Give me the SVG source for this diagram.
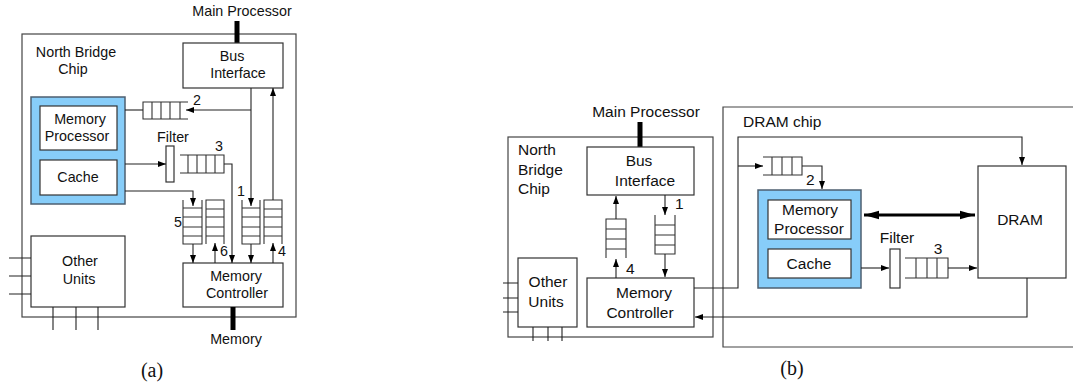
<svg xmlns="http://www.w3.org/2000/svg" width="1073" height="386" viewBox="0 0 1073 386">
<style>
.bx{fill:#fff;stroke:#333;stroke-width:1.2}
.ob{fill:none;stroke:#444;stroke-width:1.2}
.blue{fill:#87cdf9;stroke:#4d5f70;stroke-width:1.5}
.ln{fill:none;stroke:#222;stroke-width:1.1}
.q{fill:none;stroke:#333;stroke-width:1.1}
.thick{stroke:#000;stroke-width:5}
.t{font-family:"Liberation Sans",Arial,sans-serif;font-size:14.3px;fill:#111}
.tb{font-family:"Liberation Sans",Arial,sans-serif;font-size:15.5px;fill:#111}
.c{text-anchor:middle}
.cap{font-family:"Liberation Serif","Times New Roman",serif;font-size:20px;fill:#111;text-anchor:middle}
</style>
<defs>
<marker id="ah" markerUnits="userSpaceOnUse" markerWidth="9" markerHeight="7" refX="8" refY="3.5" orient="auto">
<path d="M0,0.5 L8,3.5 L0,6.5 Z" fill="#000"/>
</marker>
<marker id="ahb" markerUnits="userSpaceOnUse" markerWidth="16" markerHeight="10" refX="15" refY="5" orient="auto-start-reverse">
<path d="M0,0.8 L15,5 L0,9.2 Z" fill="#000"/>
</marker>
</defs>

<!-- ================= Panel (a) ================= -->
<g id="a-northbridge">
<rect class="ob" x="22" y="34" width="274" height="283"/>
<text class="t c" x="76" y="57">North Bridge</text>
<text class="t c" x="73" y="74">Chip</text>
</g>
<g id="a-mainproc">
<line class="thick" x1="237" y1="21" x2="237" y2="43"/>
<text class="t c" x="242" y="16">Main Processor</text>
</g>
<g id="a-businterface">
<rect class="bx" x="183" y="43" width="100" height="45"/>
<text class="t c" x="232" y="61">Bus</text>
<text class="t c" x="238" y="78">Interface</text>
</g>
<g id="a-blue">
<rect class="blue" x="31" y="97" width="94" height="107"/>
</g>
<g id="a-memproc">
<rect class="bx" x="40" y="106" width="77" height="44"/>
<text class="t c" x="80" y="124">Memory</text>
<text class="t c" x="77" y="141">Processor</text>
</g>
<g id="a-cache">
<rect class="bx" x="40" y="160" width="77" height="35"/>
<text class="t c" x="78" y="182">Cache</text>
</g>
<g id="a-filter">
<rect class="bx" x="166" y="146" width="8" height="36"/>
<text class="t c" x="173" y="142">Filter</text>
</g>
<g id="a-queue2">
<path class="q" d="M188,102 H143 V119 H188 M152,102 V119 M161,102 V119 M170,102 V119 M180,102 V119"/>
<text class="t" x="193" y="105">2</text>
</g>
<g id="a-queue3">
<path class="q" d="M180,155 H224 V173 H180 M188,155 V173 M197,155 V173 M206,155 V173 M215,155 V173"/>
<text class="t c" x="219" y="151">3</text>
</g>
<g id="a-queue5">
<path class="q" d="M183,200 V244 H202 V200 M183,208 H202 M183,217 H202 M183,227 H202 M183,236 H202"/>
<text class="t" x="174" y="227">5</text>
</g>
<g id="a-queue6">
<path class="q" d="M206,244 V200 H224 V244 M206,209 H224 M206,217 H224 M206,227 H224 M206,236 H224"/>
<text class="t" x="220" y="256">6</text>
</g>
<g id="a-queue1">
<path class="q" d="M242,200 V244 H260 V200 M242,208 H260 M242,217 H260 M242,227 H260 M242,236 H260"/>
<text class="t" x="237" y="196">1</text>
</g>
<g id="a-queue4">
<path class="q" d="M264,244 V200 H282 V244 M264,209 H282 M264,217 H282 M264,227 H282 M264,236 H282"/>
<text class="t" x="278" y="256">4</text>
</g>
<g id="a-memctrl">
<rect class="bx" x="183" y="263" width="100" height="44"/>
<text class="t c" x="236" y="281">Memory</text>
<text class="t c" x="237" y="298">Controller</text>
</g>
<g id="a-memory">
<line class="thick" x1="233" y1="307" x2="233" y2="330"/>
<text class="t c" x="236" y="344">Memory</text>
</g>
<g id="a-otherunits">
<rect class="bx" x="31" y="236" width="94" height="71"/>
<text class="t c" x="80" y="266">Other</text>
<text class="t c" x="79" y="284">Units</text>
<path class="ln" d="M9,258 H31 M9,276 H31 M9,294 H31 M53,307 V330 M76,307 V330 M98,307 V330"/>
</g>
<text class="cap" x="152" y="377">(a)</text>

<g id="a-connectors">
<path class="ln" d="M251,110 H186" marker-end="url(#ah)"/>
<path class="ln" d="M125,110 H143"/>
<path class="ln" d="M125,164 H166" marker-end="url(#ah)"/>
<path class="ln" d="M224,164 H232 V263" marker-end="url(#ah)"/>
<path class="ln" d="M125,191 H193 V206" marker-end="url(#ah)"/>
<path class="ln" d="M193,244 V263" marker-end="url(#ah)"/>
<path class="ln" d="M215,263 V243" marker-end="url(#ah)"/>
<path class="ln" d="M251,88 V206" marker-end="url(#ah)"/>
<path class="ln" d="M251,244 V263" marker-end="url(#ah)"/>
<path class="ln" d="M273,200 V88" marker-end="url(#ah)"/>
<path class="ln" d="M273,263 V243" marker-end="url(#ah)"/>
</g>

<!-- ================= Panel (b) ================= -->
<g id="b-northbridge">
<rect class="ob" x="508" y="137" width="205" height="200"/>
<text class="tb" x="518" y="155">North</text>
<text class="tb" x="518" y="175">Bridge</text>
<text class="tb" x="518" y="194">Chip</text>
</g>
<g id="b-mainproc">
<line class="thick" x1="640" y1="122" x2="640" y2="147"/>
<text class="tb c" x="646" y="117">Main Processor</text>
</g>
<g id="b-businterface">
<rect class="bx" x="587" y="147" width="107" height="48"/>
<text class="tb c" x="639" y="166">Bus</text>
<text class="tb c" x="645" y="186">Interface</text>
</g>
<g id="b-queue4">
<path class="q" d="M606,258 V219 H626 V258 M606,229 H626 M606,239 H626 M606,249 H626"/>
<text class="tb" x="626" y="274">4</text>
</g>
<g id="b-queue1">
<path class="q" d="M655,215 V254 H675 V215 M655,225 H675 M655,235 H675 M655,245 H675"/>
<text class="tb" x="675" y="209">1</text>
</g>
<g id="b-memctrl">
<rect class="bx" x="587" y="278" width="107" height="49"/>
<text class="tb c" x="644" y="298">Memory</text>
<text class="tb c" x="640" y="318">Controller</text>
</g>
<g id="b-otherunits">
<rect class="bx" x="518" y="258" width="59" height="69"/>
<text class="tb c" x="548" y="287">Other</text>
<text class="tb c" x="546" y="307">Units</text>
<path class="ln" d="M503,283 H518 M503,298 H518 M503,312 H518 M533,327 V341 M548,327 V341 M562,327 V341"/>
</g>
<g id="b-dramchip">
<path class="ob" d="M1080,107 H723 V347 H1080"/>
<text class="tb" x="743" y="127">DRAM chip</text>
</g>
<g id="b-queue2">
<path class="q" d="M763,157 H802 V175 H763 M772,157 V175 M782,157 V175 M792,157 V175"/>
<text class="tb" x="806" y="185">2</text>
</g>
<g id="b-blue">
<rect class="blue" x="758" y="190" width="103" height="98"/>
</g>
<g id="b-memproc">
<rect class="bx" x="768" y="200" width="83" height="39"/>
<text class="tb c" x="810" y="215">Memory</text>
<text class="tb c" x="809" y="234">Processor</text>
</g>
<g id="b-cache">
<rect class="bx" x="768" y="249" width="83" height="29"/>
<text class="tb c" x="809" y="269">Cache</text>
</g>
<g id="b-filter">
<rect class="bx" x="890" y="249" width="10" height="39"/>
<text class="tb c" x="897" y="243">Filter</text>
</g>
<g id="b-queue3">
<path class="q" d="M905,258 H948 V278 H905 M916,258 V278 M927,258 V278 M937,258 V278"/>
<text class="tb c" x="938" y="254">3</text>
</g>
<g id="b-dram">
<rect class="bx" x="978" y="166" width="88" height="112"/>
<text class="tb c" x="1020" y="225">DRAM</text>
</g>
<text class="cap" x="792" y="375">(b)</text>

<g id="b-connectors">
<path class="ln" d="M616,219 V196" marker-end="url(#ah)"/>
<path class="ln" d="M616,278 V259" marker-end="url(#ah)"/>
<path class="ln" d="M665,195 V215" marker-end="url(#ah)"/>
<path class="ln" d="M665,254 V277" marker-end="url(#ah)"/>
<path class="ln" d="M694,288 H738 V137 H1022 V165" marker-end="url(#ah)"/>
<path class="ln" d="M738,166 H763" marker-end="url(#ah)"/>
<path class="ln" d="M802,166 H822 V189" marker-end="url(#ah)"/>
<path d="M864,215 H975" stroke="#000" stroke-width="3" marker-start="url(#ahb)" marker-end="url(#ahb)"/>
<path class="ln" d="M861,268 H889" marker-end="url(#ah)"/>
<path class="ln" d="M948,268 H977" marker-end="url(#ah)"/>
<path class="ln" d="M1027,278 V317 H695" marker-end="url(#ah)"/>
</g>
</svg>
